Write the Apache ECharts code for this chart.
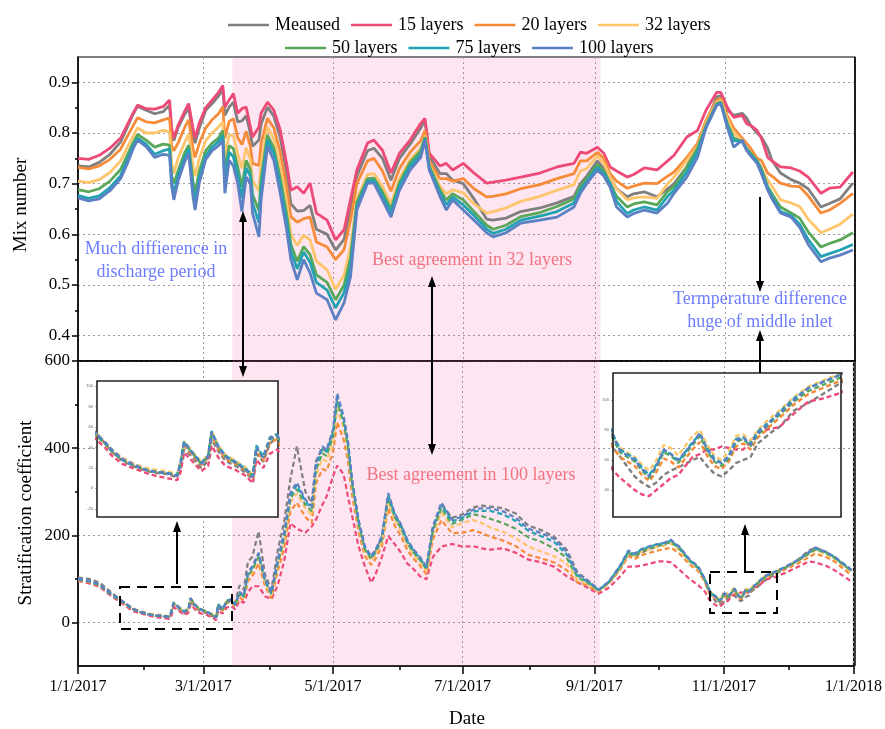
<!DOCTYPE html>
<html><head><meta charset="utf-8">
<script src="https://cdn.jsdelivr.net/npm/echarts@6/dist/echarts.min.js"></script>
<style>html,body{margin:0;padding:0;background:#fff}#c{width:885px;height:729px}</style>
</head><body><div id="c"></div>
<script>
// ---------- DATA ----------
const seriesNames = ['Meaused','15 layers','20 layers','32 layers','50 layers','75 layers','100 layers'];

// x tick days (days since 1/1/2017) and labels
const xTickDays = [0,59,120,181,243,304,365];
const xTickLabels = ['1/1/2017','3/1/2017','5/1/2017','7/1/2017','9/1/2017','11/1/2017','1/1/2018'];
const xMinorDays = [31,90,151,212,273,334];
const mixTicks = [0.4,0.5,0.6,0.7,0.8,0.9];
const mixMinorTicks = [0.45,0.55,0.65,0.75,0.85];
const strTicks = [0,200,400,600];
const strMinorTicks = [100,300,500];
const insetLeftTicks = [-20,0,20,40,60,80,100];
const insetRightTicks = [40,60,80,100];
const dischargePeriod = [72.5,245.5];

// Mix number (top panel)
const daysTop = [0,5,10,15,20,23,26,28,32,36,40,43,44,45,47,50,52,54,55,57,60,63,66,68,69,71,73,75,77,79,81,82,85,86,89,92,95,98,100,103,106,109,112,117,121,125,128,131,136,139,143,147,151,156,161,163,165,170,173,176,181,186,192,195,201,208,217,225,233,236,239,244,247,250,253,258,261,266,272,277,280,286,291,295,300,302,305,308,312,314,316,319,321,324,326,330,335,339,343,349,353,358,364];
const mixMeaused = [.735,.733,.742,.758,.782,.810,.838,.853,.845,.838,
.842,.855,.800,.785,.810,.836,.850,.795,.780,.810,
.845,.858,.873,.886,.835,.851,.861,.822,.824,.834,
.799,.774,.786,.818,.851,.833,.791,.722,.660,.646,
.647,.657,.610,.600,.569,.590,.648,.715,.765,.770,
.750,.707,.750,.778,.810,.825,.755,.720,.720,.707,
.700,.670,.630,.628,.632,.645,.652,.662,.675,.700,
.715,.745,.730,.713,.690,.674,.680,.684,.674,.690,
.700,.733,.779,.820,.871,.874,.845,.835,.839,.830,
.815,.800,.792,.770,.746,.721,.708,.701,.690,.654,
.661,.670,.701];
const mix15 = [.750,.748,.756,.770,.790,.815,.840,.855,.848,.847,
.852,.865,.810,.790,.815,.842,.858,.810,.790,.820,
.850,.865,.880,.894,.851,.865,.878,.839,.848,.851,
.812,.792,.812,.839,.861,.845,.806,.740,.687,.694,
.681,.701,.642,.628,.589,.609,.668,.727,.780,.786,
.766,.721,.760,.786,.819,.829,.760,.735,.740,.727,
.740,.721,.701,.703,.707,.713,.721,.733,.740,.762,
.760,.772,.760,.733,.725,.713,.718,.731,.727,.745,
.756,.792,.805,.845,.880,.880,.851,.831,.835,.819,
.815,.805,.790,.752,.745,.733,.731,.725,.713,.681,
.691,.693,.723];
const mix20 = [.732,.729,.735,.748,.768,.792,.815,.830,.822,.820,
.826,.830,.775,.765,.780,.810,.826,.770,.752,.780,
.810,.826,.838,.852,.790,.823,.828,.791,.777,.803,
.773,.740,.736,.779,.829,.810,.762,.694,.635,.624,
.631,.634,.585,.575,.550,.570,.628,.700,.745,.750,
.725,.685,.730,.762,.785,.805,.745,.710,.710,.705,
.710,.690,.674,.675,.680,.690,.698,.710,.720,.745,
.745,.762,.750,.720,.705,.691,.695,.701,.700,.715,
.723,.752,.779,.825,.865,.868,.835,.810,.790,.780,
.770,.750,.746,.721,.715,.701,.695,.694,.676,.642,
.648,.661,.681];
const mix32 = [.705,.702,.708,.722,.745,.770,.795,.810,.800,.800,
.805,.802,.740,.720,.750,.780,.798,.735,.715,.750,
.785,.800,.812,.822,.752,.796,.795,.759,.730,.771,
.747,.705,.686,.740,.812,.788,.733,.664,.600,.578,
.598,.589,.547,.530,.491,.520,.575,.670,.718,.720,
.695,.660,.710,.748,.770,.795,.738,.695,.680,.688,
.682,.660,.642,.645,.652,.665,.675,.687,.698,.725,
.730,.755,.740,.713,.690,.668,.672,.674,.671,.700,
.713,.746,.773,.820,.861,.864,.828,.800,.785,.770,
.760,.746,.730,.707,.695,.668,.662,.655,.630,.603,
.610,.620,.640];
const mix50 = [.688,.684,.690,.705,.728,.755,.782,.797,.786,.772,
.778,.776,.715,.700,.725,.760,.776,.705,.682,.725,
.765,.780,.790,.805,.722,.775,.769,.734,.694,.746,
.727,.678,.647,.709,.796,.770,.711,.640,.580,.547,
.576,.560,.520,.505,.471,.500,.553,.663,.710,.711,
.684,.650,.702,.742,.765,.792,.735,.688,.668,.680,
.668,.645,.618,.610,.618,.635,.643,.655,.670,.695,
.710,.738,.725,.700,.675,.654,.660,.664,.658,.685,
.694,.733,.770,.815,.858,.861,.819,.790,.783,.770,
.760,.746,.730,.694,.680,.654,.642,.632,.605,.575,
.582,.589,.603];
const mix75 = [.677,.671,.676,.692,.716,.745,.775,.790,.778,.758,
.765,.768,.705,.680,.715,.750,.768,.690,.664,.712,
.755,.772,.783,.795,.703,.762,.753,.719,.671,.731,
.715,.662,.623,.690,.786,.760,.697,.626,.566,.532,
.565,.545,.505,.490,.455,.485,.535,.655,.705,.706,
.676,.643,.695,.735,.758,.789,.731,.682,.658,.674,
.658,.637,.610,.602,.610,.628,.636,.645,.662,.688,
.705,.732,.720,.700,.665,.641,.648,.654,.648,.675,
.687,.723,.763,.810,.855,.859,.815,.785,.783,.768,
.757,.743,.725,.690,.675,.645,.637,.620,.590,.556,
.562,.569,.580];
const mix100 = [.672,.666,.670,.686,.710,.738,.770,.786,.773,.752,
.758,.756,.695,.668,.705,.742,.760,.675,.648,.702,
.748,.765,.775,.785,.681,.746,.735,.701,.645,.713,
.700,.642,.595,.668,.774,.746,.681,.609,.550,.510,
.550,.524,.484,.471,.431,.465,.516,.648,.701,.701,
.668,.634,.687,.727,.752,.786,.727,.675,.648,.668,
.648,.628,.603,.595,.603,.622,.628,.634,.654,.681,
.700,.727,.715,.693,.654,.634,.641,.648,.642,.662,
.681,.713,.752,.810,.855,.858,.811,.772,.786,.766,
.755,.740,.720,.687,.670,.642,.634,.614,.580,.546,
.553,.559,.569];

// Stratification coefficient (bottom panel)
const daysBottom = [0,5,10,15,20,22,24,27,30,34,
37,40,43,44,45,47,50,52,53,55,
57,60,63,65,66,68,70,72,74,76,
78,80,82,85,88,91,94,97,100,103,
107,110,112,115,117,120,122,125,127,129,
132,135,138,140,143,146,149,152,155,158,
161,164,167,171,176,181,186,190,194,200,
206,212,218,224,230,235,239,242,245,250,
255,259,262,265,269,273,276,279,283,288,
292,295,297,298,300,301,302,303,304,305,
306,308,309,310,311,312,313,314,315,316,
317,318,319,320,322,324,326,328,333,339,
344,347,352,356,364];
const strMeaused = [103,100,92,72,52,44,36,27,22,17,
15,14,11,20,38,32,20,27,48,36,
27,22,15,9,34,26,44,50,45,85,
75,140,150,209,110,75,165,230,330,404,
300,275,370,400,392,440,515,470,410,322,
232,170,148,163,195,290,248,222,186,163,
145,124,215,272,240,248,264,268,266,262,
250,222,212,197,167,115,100,88,74,92,
124,158,150,160,168,175,180,186,172,142,
125,96,68,62,49,45,42,45,50,53,
55,60,62,56,51,49,53,58,60,62,
71,75,79,82,93,98,104,110,125,145,
165,172,162,150,118];
const str15 = [95,90,82,63,46,40,32,24,20,15,
12,10,8,16,35,28,17,22,42,30,
22,18,12,5,28,20,34,38,30,50,
45,69,83,83,60,53,85,140,228,215,
206,220,236,270,289,335,360,340,290,245,
175,129,91,110,150,198,180,160,135,122,
106,99,150,174,180,174,175,170,167,170,
160,144,138,128,106,92,82,74,66,80,
105,128,128,130,135,140,140,138,121,99,
85,71,53,48,40,37,36,40,44,48,
50,62,64,67,67,69,68,67,67,72,
78,80,81,82,91,99,101,104,114,128,
140,138,130,120,94];
const str20 = [97,93,85,66,50,44,36,28,23,18,
16,15,12,24,42,34,23,30,52,38,
29,24,17,10,37,27,45,48,36,58,
50,95,105,135,84,55,118,170,255,275,
242,228,318,352,348,390,460,420,372,292,
210,152,132,146,174,262,222,198,166,146,
130,110,190,235,205,206,212,205,197,188,
175,155,147,138,120,92,86,78,70,90,
120,152,145,154,160,165,168,172,158,132,
117,93,68,62,56,50,46,52,61,59,
55,67,72,63,56,54,59,69,71,67,
75,79,84,88,97,104,108,112,122,136,
150,158,150,140,108];
const str32 = [99,95,87,68,52,46,38,30,25,20,
18,17,14,27,46,38,26,33,56,42,
33,27,20,13,41,31,50,52,41,64,
56,104,115,146,92,62,130,186,275,296,
262,246,338,375,370,414,490,447,395,310,
222,163,142,156,185,276,236,210,177,155,
139,118,202,252,218,228,235,228,218,208,
193,174,163,152,135,98,90,82,72,94,
126,158,152,162,168,173,176,181,166,138,
123,99,76,68,62,57,53,60,70,68,
63,76,80,70,63,60,66,76,77,73,
80,85,89,93,102,109,113,117,127,142,
157,166,157,146,115];
const str50 = [98,94,86,66,50,44,36,28,23,18,
16,15,13,25,44,36,24,31,54,40,
31,25,18,12,40,30,48,51,40,66,
58,108,120,152,95,65,136,194,285,306,
270,255,350,388,382,426,505,458,405,318,
228,168,146,160,190,285,242,216,182,160,
143,122,210,262,226,236,248,244,238,228,
215,195,185,170,148,104,93,84,73,93,
126,160,153,164,171,177,179,185,169,140,
124,98,74,65,59,53,48,55,65,63,
58,70,76,66,59,56,61,72,74,69,
77,81,86,90,99,106,110,114,126,142,
158,168,159,148,118];
const str75 = [99,95,87,67,51,45,37,28,23,18,
16,15,13,26,46,37,25,32,56,41,
32,26,19,12,42,31,50,53,41,68,
60,112,125,158,97,67,140,200,292,315,
278,262,360,398,392,436,518,468,414,325,
234,172,150,164,195,292,248,222,186,164,
147,125,216,270,232,240,255,256,256,248,
233,210,198,185,156,108,96,86,74,94,
128,163,156,167,174,180,182,188,172,142,
126,99,77,67,61,55,50,57,66,64,
59,72,77,68,61,58,63,74,75,71,
79,83,87,92,101,108,112,116,127,143,
160,170,161,150,120];
const str100 = [100,96,88,68,52,45,38,29,24,18,
16,15,12,25,45,36,24,31,55,40,
31,25,18,11,40,30,49,52,40,70,
62,115,128,160,99,69,144,206,298,321,
282,267,366,404,396,442,526,473,419,328,
236,175,152,167,198,297,251,225,190,167,
150,128,220,275,236,243,259,262,262,255,
240,215,205,192,162,112,99,88,75,95,
130,165,158,168,175,180,183,190,174,144,
128,100,76,66,60,54,49,56,67,64,
60,71,78,67,60,58,62,73,75,70,
78,82,87,91,100,108,112,116,128,144,
162,172,162,151,121];

// ---------- STYLE ----------
const colors = ['#7f7f7f','#ee4a77','#f68b3a','#fec56c','#5aa75a','#22a3b2','#5c80c4'];
const FONT = '"Liberation Serif","Times New Roman",serif';
const gridLine = {show:true, lineStyle:{color:'#9a9a9a', type:[2,3], width:1}};
const blackLine = {show:true, onZero:false, lineStyle:{color:'#000', width:1.5}};

const topSets = [mixMeaused, mix15, mix20, mix32, mix50, mix75, mix100];
const botSets = [strMeaused, str15, str20, str32, str50, str75, str100];
const toPairs = (days, vals) => days.map((d,k)=>[d, vals[k]]);

const shade = {silent:true, itemStyle:{color:'rgba(240,100,170,0.16)'},
  data:[[{xAxis:dischargePeriod[0]},{xAxis:dischargePeriod[1]}]]};

const series = [];
topSets.forEach((v,i)=>series.push({name:seriesNames[i], type:'line', xAxisIndex:0, yAxisIndex:0,
  data:toPairs(daysTop,v), symbol:'none', showSymbol:false, z:2,
  lineStyle:{width:2.8, color:colors[i]}, itemStyle:{color:colors[i]},
  markArea: i===0 ? shade : undefined}));
botSets.forEach((v,i)=>series.push({name:seriesNames[i], type:'line', xAxisIndex:1, yAxisIndex:1,
  data:toPairs(daysBottom,v), symbol:'none', showSymbol:false, z:2,
  lineStyle:{width:2.2, color:colors[i], type:[5,3]}, itemStyle:{color:colors[i]},
  markArea: i===0 ? shade : undefined}));
[4,5].forEach(ax=>botSets.forEach((v,i)=>series.push({name:seriesNames[i], type:'line', xAxisIndex:ax, yAxisIndex:ax,
  data:toPairs(daysBottom,v), symbol:'none', showSymbol:false, z:4, clip:true,
  lineStyle:{width:2.4, color:colors[i], type:[5,3]}, itemStyle:{color:colors[i]}})));

const xLabelFmt = v => { const k = xTickDays.indexOf(v); return k>=0 ? xTickLabels[k] : ''; };
const hiddenAxis = (gi,min,max)=>({gridIndex:gi, type:'value', min, max, show:false});

function arrow(x, yFrom, yTo, both){
  const els = [];
  const head = (yt, dir) => ({type:'polygon', z:10, shape:{points:[[x,yt],[x-4,yt-dir*11],[x+4,yt-dir*11]]}, style:{fill:'#000'}});
  const d = yTo > yFrom ? 1 : -1;
  els.push({type:'line', z:10, shape:{x1:x, y1: both ? yFrom + d*8 : yFrom, x2:x, y2:yTo - d*8}, style:{stroke:'#000', lineWidth:2}});
  els.push(head(yTo, d));
  if (both) els.push(head(yFrom, -d));
  return els;
}
const txt = (s, x, y, color) => ({type:'text', z:10, style:{text:s, x, y, fill:color, font:'18px '+FONT, textAlign:'center', textVerticalAlign:'middle', lineHeight:23}});
const legendStyle = {icon:'rect', itemWidth:41, itemHeight:2.5, itemGap:11,
  textStyle:{fontFamily:FONT, fontSize:18, color:'#000', padding:[0,0,0,1]}};

const option = {
  animation:false,
  backgroundColor:'#fff',
  legend:[
    Object.assign({data:seriesNames.slice(0,4), left:223, top:11}, legendStyle),
    Object.assign({data:seriesNames.slice(4), left:280, top:34}, legendStyle)
  ],
  grid:[
    {left:78, top:57, width:777, height:304, show:true, borderColor:'#000', borderWidth:1.2},
    {left:78, top:361, width:777, height:305, show:true, borderColor:'#000', borderWidth:1.2},
    {left:78, top:57, width:777, height:304},
    {left:78, top:361, width:777, height:305},
    {left:97, top:381, width:181, height:136},
    {left:613, top:373, width:228, height:144}
  ],
  xAxis:[
    {gridIndex:0, type:'value', min:0, max:365, axisLine:blackLine,
     axisTick:{show:false, customValues:xTickDays}, axisLabel:{show:false}, splitLine:gridLine},
    {gridIndex:1, type:'value', min:0, max:365, axisLine:blackLine,
     axisTick:{show:true, customValues:xTickDays, length:8, lineStyle:{color:'#000', width:1.5}},
     axisLabel:{customValues:xTickDays, formatter:xLabelFmt, fontFamily:FONT, fontSize:16, color:'#000', margin:13},
     splitLine:gridLine},
    hiddenAxis(2,0,365),
    {gridIndex:3, type:'value', min:0, max:365, axisLine:{show:false, onZero:false},
     axisTick:{show:true, customValues:xMinorDays, length:4, lineStyle:{color:'#000', width:1.5}},
     axisLabel:{show:false}, splitLine:{show:false}},
    hiddenAxis(4,19.7,72.3),
    hiddenAxis(5,297,328.5)
  ],
  yAxis:[
    {gridIndex:0, type:'value', min:0.35, max:0.95, axisLine:blackLine,
     axisTick:{show:true, customValues:mixTicks, length:6, lineStyle:{color:'#000', width:1.5}},
     axisLabel:{customValues:mixTicks, formatter:v=>v.toFixed(1), fontFamily:FONT, fontSize:17, color:'#000', margin:8},
     splitLine:gridLine},
    {gridIndex:1, type:'value', min:-100, max:600, axisLine:blackLine,
     axisTick:{show:true, customValues:strTicks, length:6, lineStyle:{color:'#000', width:1.5}},
     axisLabel:{customValues:strTicks, fontFamily:FONT, fontSize:17, color:'#000', margin:8},
     splitLine:gridLine},
    {gridIndex:2, type:'value', min:0.35, max:0.95, axisLine:{show:false, onZero:false},
     axisTick:{show:true, customValues:mixMinorTicks, length:3, lineStyle:{color:'#000', width:1.5}},
     axisLabel:{show:false}, splitLine:{show:false}},
    {gridIndex:3, type:'value', min:-100, max:600, axisLine:{show:false, onZero:false},
     axisTick:{show:true, customValues:strMinorTicks, length:3, lineStyle:{color:'#000', width:1.5}},
     axisLabel:{show:false}, splitLine:{show:false}},
    {gridIndex:4, type:'value', min:-28, max:105, axisLine:{show:false, onZero:false},
     axisTick:{show:true, customValues:insetLeftTicks, length:2, lineStyle:{color:'#777', width:0.6}},
     axisLabel:{customValues:insetLeftTicks, fontSize:4, color:'#666', margin:4}, splitLine:{show:false}},
    {gridIndex:5, type:'value', min:22, max:118, axisLine:{show:false, onZero:false},
     axisTick:{show:true, customValues:insetRightTicks, length:2, lineStyle:{color:'#777', width:0.6}},
     axisLabel:{customValues:insetRightTicks, fontSize:4, color:'#666', margin:4}, splitLine:{show:false}}
  ],
  series,
  graphic:[
    {type:'line', z:10, shape:{x1:855, y1:57, x2:855, y2:666}, style:{stroke:'#000', lineWidth:1.5}},
    {type:'rect', z:3, shape:{x:97, y:381, width:181, height:136}, style:{fill:'#fff', stroke:'#222', lineWidth:1.6}},
    {type:'rect', z:5, shape:{x:613, y:373, width:228, height:144}, style:{fill:'none', stroke:'#222', lineWidth:1.6}},
    {type:'rect', z:10, shape:{x:120, y:587, width:112, height:42}, style:{fill:'none', stroke:'#000', lineWidth:2, lineDash:[10,7]}},
    {type:'rect', z:10, shape:{x:710, y:572, width:67, height:41}, style:{fill:'none', stroke:'#000', lineWidth:2, lineDash:[10,7]}},
    ...arrow(243, 211, 377, true),
    ...arrow(432, 276, 455, true),
    ...arrow(760, 197, 292, false),
    ...arrow(760, 373, 330, false),
    ...arrow(177, 584, 521, false),
    ...arrow(745, 571, 524, false),
    txt('Much diffierence in\ndischarge period', 156, 261, '#6e7dff'),
    txt('Best agreement in 32 layers', 472, 260, '#f27382'),
    txt('Termperature difference\nhuge of middle inlet', 760, 311, '#6e7dff'),
    txt('Best agreement in 100 layers', 471, 475, '#f27382'),
    {type:'text', z:10, x:21, y:205, rotation:Math.PI/2, style:{text:'Mix number', x:0, y:0, fill:'#000', font:'19px '+FONT, textAlign:'center', textVerticalAlign:'middle'}},
    {type:'text', z:10, x:26, y:513, rotation:Math.PI/2, style:{text:'Stratification coefficient', x:0, y:0, fill:'#000', font:'19px '+FONT, textAlign:'center', textVerticalAlign:'middle'}},
    {type:'text', z:10, style:{text:'Date', x:467, y:719, fill:'#000', font:'19px '+FONT, textAlign:'center', textVerticalAlign:'middle'}}
  ]
};
const chart = echarts.init(document.getElementById('c'));
chart.setOption(option);
</script>
</body></html>
